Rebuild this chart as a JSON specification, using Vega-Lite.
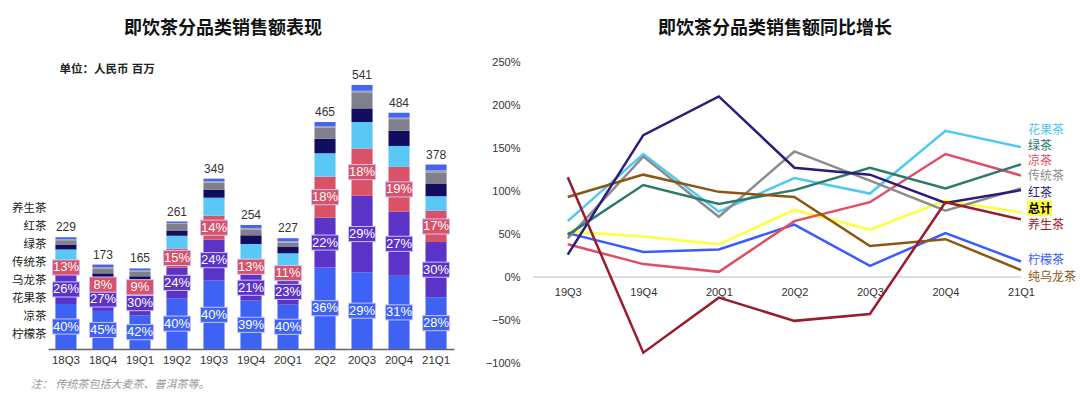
{
"$schema":"https://vega.github.io/schema/vega-lite/v6.json",
"padding":{"left":30,"top":20,"right":0,"bottom":0},
"config":{"font":"Liberation Sans, Noto Sans CJK SC","view":{"stroke":null},"concat":{"spacing":31}},
"resolve":{"scale":{"color":"independent"},"legend":{"color":"independent"}},
"datasets":{
"sales":[
{"q":"18Q3","k":"柠檬茶","v":92,"p":40},{"q":"18Q3","k":"凉茶","v":60,"p":26},{"q":"18Q3","k":"花果茶","v":30,"p":13},{"q":"18Q3","k":"乌龙茶","v":22},{"q":"18Q3","k":"传统茶","v":10},{"q":"18Q3","k":"绿茶","v":9},{"q":"18Q3","k":"红茶","v":2},{"q":"18Q3","k":"养生茶","v":4},
{"q":"18Q4","k":"柠檬茶","v":78,"p":45},{"q":"18Q4","k":"凉茶","v":47,"p":27},{"q":"18Q4","k":"花果茶","v":14,"p":8},{"q":"18Q4","k":"乌龙茶","v":8},{"q":"18Q4","k":"传统茶","v":8},{"q":"18Q4","k":"绿茶","v":9},{"q":"18Q4","k":"红茶","v":4},{"q":"18Q4","k":"养生茶","v":5},
{"q":"19Q1","k":"柠檬茶","v":69,"p":42},{"q":"19Q1","k":"凉茶","v":50,"p":30},{"q":"19Q1","k":"花果茶","v":15,"p":9},{"q":"19Q1","k":"乌龙茶","v":8},{"q":"19Q1","k":"传统茶","v":7},{"q":"19Q1","k":"绿茶","v":9},{"q":"19Q1","k":"红茶","v":3},{"q":"19Q1","k":"养生茶","v":4},
{"q":"19Q2","k":"柠檬茶","v":104,"p":40},{"q":"19Q2","k":"凉茶","v":63,"p":24},{"q":"19Q2","k":"花果茶","v":39,"p":15},{"q":"19Q2","k":"乌龙茶","v":26},{"q":"19Q2","k":"传统茶","v":10},{"q":"19Q2","k":"绿茶","v":15},{"q":"19Q2","k":"红茶","v":1},{"q":"19Q2","k":"养生茶","v":3},
{"q":"19Q3","k":"柠檬茶","v":140,"p":40},{"q":"19Q3","k":"凉茶","v":84,"p":24},{"q":"19Q3","k":"花果茶","v":49,"p":14},{"q":"19Q3","k":"乌龙茶","v":37},{"q":"19Q3","k":"传统茶","v":16},{"q":"19Q3","k":"绿茶","v":15},{"q":"19Q3","k":"红茶","v":3},{"q":"19Q3","k":"养生茶","v":5},
{"q":"19Q4","k":"柠檬茶","v":99,"p":39},{"q":"19Q4","k":"凉茶","v":53,"p":21},{"q":"19Q4","k":"花果茶","v":33,"p":13},{"q":"19Q4","k":"乌龙茶","v":30},{"q":"19Q4","k":"传统茶","v":18},{"q":"19Q4","k":"绿茶","v":12},{"q":"19Q4","k":"红茶","v":3},{"q":"19Q4","k":"养生茶","v":6},
{"q":"20Q1","k":"柠檬茶","v":91,"p":40},{"q":"20Q1","k":"凉茶","v":52,"p":23},{"q":"20Q1","k":"花果茶","v":25,"p":11},{"q":"20Q1","k":"乌龙茶","v":28},{"q":"20Q1","k":"传统茶","v":13},{"q":"20Q1","k":"绿茶","v":9},{"q":"20Q1","k":"红茶","v":3},{"q":"20Q1","k":"养生茶","v":6},
{"q":"2Q2","k":"柠檬茶","v":167,"p":36},{"q":"2Q2","k":"凉茶","v":102,"p":22},{"q":"2Q2","k":"花果茶","v":84,"p":18},{"q":"2Q2","k":"乌龙茶","v":48},{"q":"2Q2","k":"传统茶","v":30},{"q":"2Q2","k":"绿茶","v":22},{"q":"2Q2","k":"红茶","v":3},{"q":"2Q2","k":"养生茶","v":9},
{"q":"20Q3","k":"柠檬茶","v":157,"p":29},{"q":"20Q3","k":"凉茶","v":157,"p":29},{"q":"20Q3","k":"花果茶","v":97,"p":18},{"q":"20Q3","k":"乌龙茶","v":54},{"q":"20Q3","k":"传统茶","v":28},{"q":"20Q3","k":"绿茶","v":33},{"q":"20Q3","k":"红茶","v":3},{"q":"20Q3","k":"养生茶","v":12},
{"q":"20Q4","k":"柠檬茶","v":150,"p":31},{"q":"20Q4","k":"凉茶","v":131,"p":27},{"q":"20Q4","k":"花果茶","v":92,"p":19},{"q":"20Q4","k":"乌龙茶","v":43},{"q":"20Q4","k":"传统茶","v":31},{"q":"20Q4","k":"绿茶","v":24},{"q":"20Q4","k":"红茶","v":3},{"q":"20Q4","k":"养生茶","v":10},
{"q":"21Q1","k":"柠檬茶","v":106,"p":28},{"q":"21Q1","k":"凉茶","v":113,"p":30},{"q":"21Q1","k":"花果茶","v":64,"p":17},{"q":"21Q1","k":"乌龙茶","v":30},{"q":"21Q1","k":"传统茶","v":25},{"q":"21Q1","k":"绿茶","v":24},{"q":"21Q1","k":"红茶","v":4},{"q":"21Q1","k":"养生茶","v":12}
],
"growth":[
{"q":"19Q3","s":"总计","v":53},{"q":"19Q4","s":"总计","v":47},{"q":"20Q1","s":"总计","v":38},{"q":"20Q2","s":"总计","v":78},{"q":"20Q3","s":"总计","v":55},{"q":"20Q4","s":"总计","v":89},{"q":"21Q1","s":"总计","v":75},
{"q":"19Q3","s":"柠檬茶","v":51},{"q":"19Q4","s":"柠檬茶","v":29},{"q":"20Q1","s":"柠檬茶","v":32},{"q":"20Q2","s":"柠檬茶","v":61},{"q":"20Q3","s":"柠檬茶","v":13},{"q":"20Q4","s":"柠檬茶","v":51},{"q":"21Q1","s":"柠檬茶","v":18},
{"q":"19Q3","s":"凉茶","v":38},{"q":"19Q4","s":"凉茶","v":15},{"q":"20Q1","s":"凉茶","v":6},{"q":"20Q2","s":"凉茶","v":65},{"q":"20Q3","s":"凉茶","v":87},{"q":"20Q4","s":"凉茶","v":143},{"q":"21Q1","s":"凉茶","v":118},
{"q":"19Q3","s":"花果茶","v":65},{"q":"19Q4","s":"花果茶","v":143},{"q":"20Q1","s":"花果茶","v":76},{"q":"20Q2","s":"花果茶","v":115},{"q":"20Q3","s":"花果茶","v":97},{"q":"20Q4","s":"花果茶","v":170},{"q":"21Q1","s":"花果茶","v":151},
{"q":"19Q3","s":"传统茶","v":45},{"q":"19Q4","s":"传统茶","v":140},{"q":"20Q1","s":"传统茶","v":70},{"q":"20Q2","s":"传统茶","v":146},{"q":"20Q3","s":"传统茶","v":112},{"q":"20Q4","s":"传统茶","v":77},{"q":"21Q1","s":"传统茶","v":103},
{"q":"19Q3","s":"绿茶","v":49},{"q":"19Q4","s":"绿茶","v":107},{"q":"20Q1","s":"绿茶","v":85},{"q":"20Q2","s":"绿茶","v":101},{"q":"20Q3","s":"绿茶","v":127},{"q":"20Q4","s":"绿茶","v":103},{"q":"21Q1","s":"绿茶","v":131},
{"q":"19Q3","s":"纯乌龙茶","v":93},{"q":"19Q4","s":"纯乌龙茶","v":119},{"q":"20Q1","s":"纯乌龙茶","v":99},{"q":"20Q2","s":"纯乌龙茶","v":93},{"q":"20Q3","s":"纯乌龙茶","v":36},{"q":"20Q4","s":"纯乌龙茶","v":44},{"q":"21Q1","s":"纯乌龙茶","v":8},
{"q":"19Q3","s":"红茶","v":26},{"q":"19Q4","s":"红茶","v":165},{"q":"20Q1","s":"红茶","v":210},{"q":"20Q2","s":"红茶","v":127},{"q":"20Q3","s":"红茶","v":119},{"q":"20Q4","s":"红茶","v":86},{"q":"21Q1","s":"红茶","v":101},
{"q":"19Q3","s":"养生茶","v":116},{"q":"19Q4","s":"养生茶","v":-88},{"q":"20Q1","s":"养生茶","v":-24},{"q":"20Q2","s":"养生茶","v":-51},{"q":"20Q3","s":"养生茶","v":-43},{"q":"20Q4","s":"养生茶","v":87},{"q":"21Q1","s":"养生茶","v":67}
]},
"hconcat":[
{
"width":406,"height":287,
"title":{"text":"即饮茶分品类销售额表现","fontSize":18,"fontWeight":"bold","font":"Noto Sans CJK SC","color":"#111","frame":"group","anchor":"middle","dx":-28,"offset":24},
"data":{"name":"sales"},
"transform":[
{"calculate":"indexof(['柠檬茶','凉茶','花果茶','乌龙茶','传统茶','绿茶','红茶','养生茶'], datum.k)","as":"o"},
{"stack":"v","groupby":["q"],"sort":[{"field":"o","order":"ascending"}],"as":["y0","y1"]},
{"calculate":"(datum.y0+datum.y1)/2","as":"ym"}
],
"encoding":{"x":{"field":"q","type":"nominal","sort":["18Q3","18Q4","19Q1","19Q2","19Q3","19Q4","20Q1","2Q2","20Q3","20Q4","21Q1"],"scale":{"paddingInner":0.43,"paddingOuter":0.2},
"axis":{"title":"注：  传统茶包括大麦茶、普洱茶等。","titleFontStyle":"italic","titleFontWeight":"normal","titleFontSize":11,"titleColor":"#999","titleAnchor":"start","titleAlign":"left","titleBaseline":"middle","titleX":-18,"titleY":35,"labelAngle":0,"labelFontSize":11.5,"labelColor":"#333","labelPadding":5,"ticks":false,"domainColor":"#666","domainWidth":1.5}}},
"layer":[
{"mark":{"type":"bar"},
"encoding":{"y":{"field":"y0","type":"quantitative","scale":{"domain":[0,588],"nice":false},"axis":{"title":"单位：人民币 百万","titleAngle":0,"titleAlign":"left","titleBaseline":"middle","titleX":11,"titleY":7,"titleFontSize":11.5,"titleFontWeight":"bold","titleColor":"#222","labels":false,"ticks":false,"domain":false,"grid":false}},
"y2":{"field":"y1"},
"color":{"field":"k","type":"nominal","scale":{"domain":["柠檬茶","凉茶","花果茶","乌龙茶","传统茶","绿茶","红茶","养生茶"],"range":["#3e63f4","#5b33c6","#d95268","#5ac8f7","#120d5e","#80808c","#a3a3b3","#4564f0"]},
"legend":{"orient":"none","legendX":-13,"legendY":141,"values":["养生茶","红茶","绿茶","传统茶","乌龙茶","花果茶","凉茶","柠檬茶"],"title":null,"symbolSize":0,"symbolStrokeWidth":0,"symbolOpacity":0,"labelAlign":"right","labelFontSize":11.5,"labelColor":"#222","rowPadding":5,"labelOffset":0,"padding":0,"labelFont":"Noto Sans CJK SC"}}}},
{"transform":[{"filter":"datum.p != null"}],
"mark":{"type":"point","shape":"M-1,-0.56H1V0.56H-1Z","size":729,"filled":true,"opacity":1,"stroke":"#c9c0ff","strokeWidth":1},
"encoding":{"y":{"field":"ym","type":"quantitative"},"color":{"field":"k","type":"nominal"}}},
{"transform":[{"filter":"datum.p != null"},{"calculate":"datum.p + '%'","as":"pl"}],
"mark":{"type":"text","color":"white","fontSize":13,"baseline":"middle"},
"encoding":{"y":{"field":"ym","type":"quantitative"},"text":{"field":"pl","type":"nominal"}}},
{"transform":[{"aggregate":[{"op":"sum","field":"v","as":"t"}],"groupby":["q"]}],
"mark":{"type":"text","fontSize":12,"color":"#333","baseline":"alphabetic","dy":-6},
"encoding":{"y":{"field":"t","type":"quantitative"},"text":{"field":"t","type":"quantitative"}}}
]
},
{
"width":488,"height":301,
"title":{"text":"即饮茶分品类销售额同比增长","fontSize":18,"fontWeight":"bold","font":"Noto Sans CJK SC","color":"#111","frame":"group","anchor":"middle","dx":-2,"offset":18},
"data":{"name":"growth"},
"layer":[
{"mark":{"type":"rule","color":"#dddddd","strokeWidth":2},"encoding":{"y":{"datum":0,"type":"quantitative"}}},
{"mark":{"type":"line","strokeWidth":2.5},
"encoding":{"x":{"field":"q","type":"ordinal","sort":null,"scale":{"type":"point","padding":0.23,"align":1},"axis":{"title":null,"labelAngle":0,"labelFontSize":11,"labelColor":"#333","ticks":false,"domain":false,"offset":-86,"labelPadding":9}},
"y":{"field":"v","type":"quantitative","scale":{"domain":[-100,250],"nice":false},"axis":{"title":null,"values":[-100,-50,0,50,100,150,200,250],"labelExpr":"(datum.value < 0 ? '−' + (-datum.value) : datum.value) + '%'","ticks":false,"domain":false,"grid":false,"labelPadding":13,"labelFontSize":11,"labelColor":"#333","labelFlush":false,"labelOverlap":false}},
"color":{"field":"s","type":"nominal","scale":{"domain":["花果茶","绿茶","凉茶","传统茶","红茶","总计","养生茶","柠檬茶","纯乌龙茶"],"range":["#4ec8f4","#2c7a6a","#e04e66","#8c8c8c","#2a1b7c","#ffff3a","#9a1b2c","#3a5cff","#8d5610"]},"legend":null}}},
{"transform":[{"filter":"datum.q=='21Q1' && datum.s=='总计'"}],
"mark":{"type":"point","shape":"M0.6,-1.2H3.1V0.35H0.6Z","size":400,"filled":true,"color":"#ffff3a","opacity":1},
"encoding":{"x":{"field":"q","type":"ordinal","sort":null},"y":{"field":"v","type":"quantitative"}}},
{"transform":[{"filter":"datum.q=='21Q1' && datum.s=='总计'"}],
"mark":{"type":"text","align":"left","dx":7,"dy":-3.5,"fontSize":12,"fontWeight":"bold","color":"#000","baseline":"middle"},
"encoding":{"x":{"field":"q","type":"ordinal","sort":null},"y":{"field":"v","type":"quantitative"},"text":{"field":"s"}}},
{"transform":[{"filter":"datum.q=='21Q1' && datum.s=='花果茶'"}],"mark":{"type":"text","align":"left","dx":7,"dy":-17.4,"fontSize":12,"baseline":"middle"},"encoding":{"x":{"field":"q","type":"ordinal","sort":null},"y":{"field":"v","type":"quantitative"},"text":{"field":"s"},"color":{"field":"s","type":"nominal","legend":null}}},
{"transform":[{"filter":"datum.q=='21Q1' && datum.s=='绿茶'"}],"mark":{"type":"text","align":"left","dx":7,"dy":-18.6,"fontSize":12,"baseline":"middle"},"encoding":{"x":{"field":"q","type":"ordinal","sort":null},"y":{"field":"v","type":"quantitative"},"text":{"field":"s"},"color":{"field":"s","type":"nominal","legend":null}}},
{"transform":[{"filter":"datum.q=='21Q1' && datum.s=='凉茶'"}],"mark":{"type":"text","align":"left","dx":7,"dy":-14.5,"fontSize":12,"baseline":"middle"},"encoding":{"x":{"field":"q","type":"ordinal","sort":null},"y":{"field":"v","type":"quantitative"},"text":{"field":"s"},"color":{"field":"s","type":"nominal","legend":null}}},
{"transform":[{"filter":"datum.q=='21Q1' && datum.s=='传统茶'"}],"mark":{"type":"text","align":"left","dx":7,"dy":-12.4,"fontSize":12,"baseline":"middle"},"encoding":{"x":{"field":"q","type":"ordinal","sort":null},"y":{"field":"v","type":"quantitative"},"text":{"field":"s"},"color":{"field":"s","type":"nominal","legend":null}}},
{"transform":[{"filter":"datum.q=='21Q1' && datum.s=='红茶'"}],"mark":{"type":"text","align":"left","dx":7,"dy":3,"fontSize":12,"baseline":"middle"},"encoding":{"x":{"field":"q","type":"ordinal","sort":null},"y":{"field":"v","type":"quantitative"},"text":{"field":"s"},"color":{"field":"s","type":"nominal","legend":null}}},
{"transform":[{"filter":"datum.q=='21Q1' && datum.s=='养生茶'"}],"mark":{"type":"text","align":"left","dx":7,"dy":5.6,"fontSize":12,"baseline":"middle"},"encoding":{"x":{"field":"q","type":"ordinal","sort":null},"y":{"field":"v","type":"quantitative"},"text":{"field":"s"},"color":{"field":"s","type":"nominal","legend":null}}},
{"transform":[{"filter":"datum.q=='21Q1' && datum.s=='柠檬茶'"}],"mark":{"type":"text","align":"left","dx":7,"dy":-1.8,"fontSize":12,"baseline":"middle"},"encoding":{"x":{"field":"q","type":"ordinal","sort":null},"y":{"field":"v","type":"quantitative"},"text":{"field":"s"},"color":{"field":"s","type":"nominal","legend":null}}},
{"transform":[{"filter":"datum.q=='21Q1' && datum.s=='纯乌龙茶'"}],"mark":{"type":"text","align":"left","dx":7,"dy":6.9,"fontSize":12,"baseline":"middle"},"encoding":{"x":{"field":"q","type":"ordinal","sort":null},"y":{"field":"v","type":"quantitative"},"text":{"field":"s"},"color":{"field":"s","type":"nominal","legend":null}}}
]
}
]
}
